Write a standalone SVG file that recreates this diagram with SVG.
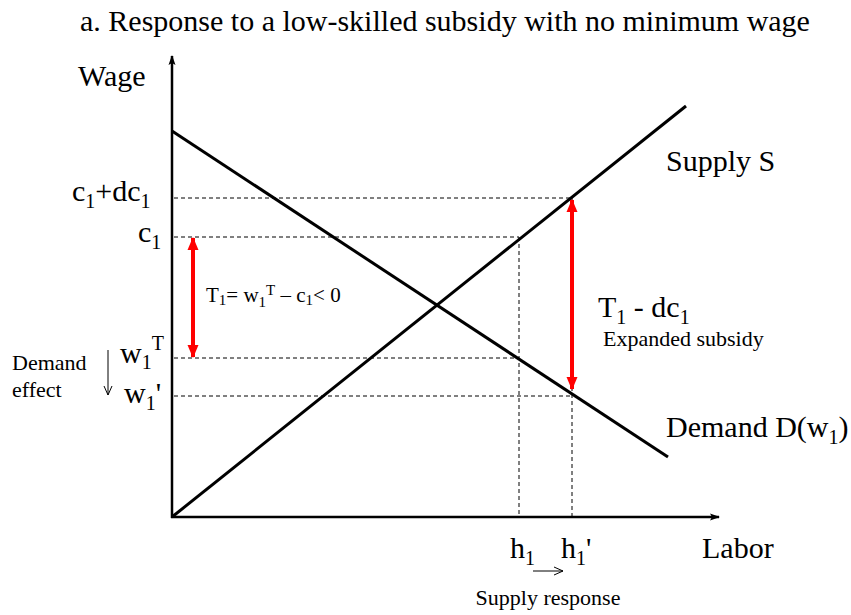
<svg xmlns="http://www.w3.org/2000/svg" width="851" height="615" viewBox="0 0 851 615">
<style>
text{font-family:"Liberation Serif","Times New Roman",serif;fill:#000}
.big{font-size:30px}
.sm{font-size:22px}
.ax{stroke:#000;stroke-width:2.5;fill:none}
.cv{stroke:#000;stroke-width:3;fill:none}
.dash{stroke:#000;stroke-width:1;stroke-dasharray:4,3;fill:none}
.red{stroke:#ff0000;stroke-width:4;fill:none}
.thin{stroke:#000;stroke-width:1;fill:none}
</style>
<defs>
<marker id="ah" markerWidth="10" markerHeight="10" refX="9" refY="5" orient="auto" markerUnits="userSpaceOnUse"><path d="M0,1.5 L10,5 L0,8.5 L2,5 z" fill="#000"/></marker>
<marker id="rh" markerWidth="13" markerHeight="12" refX="12" refY="6" orient="auto-start-reverse" markerUnits="userSpaceOnUse"><path d="M0,0.5 L13,6 L0,11.5 z" fill="#ff0000"/></marker>
<marker id="oh" markerWidth="10" markerHeight="10" refX="9" refY="5" orient="auto" markerUnits="userSpaceOnUse"><path d="M0,1 L9,5 L0,9" fill="none" stroke="#000" stroke-width="1"/></marker>
</defs>
<text class="big" x="80" y="31" font-size="30.5">a. Response to a low-skilled subsidy with no minimum wage</text>
<g id="connectors">
<line class="dash" x1="174" y1="198" x2="572" y2="198"/>
<line class="dash" x1="174" y1="237" x2="519" y2="237"/>
<line class="dash" x1="174" y1="358" x2="519" y2="358"/>
<line class="dash" x1="174" y1="396" x2="572" y2="396"/>
<line class="dash" x1="519" y1="237" x2="519" y2="516"/>
<line class="dash" x1="572" y1="198" x2="572" y2="516"/>
<line class="ax" x1="172" y1="518" x2="172" y2="56" marker-end="url(#ah)"/>
<line class="ax" x1="171" y1="517" x2="719" y2="517" marker-end="url(#ah)"/>
<line class="cv" x1="172" y1="131" x2="668" y2="457"/>
<line class="cv" x1="172" y1="517" x2="686" y2="106"/>
<line class="red" x1="193" y1="238" x2="193" y2="357" marker-start="url(#rh)" marker-end="url(#rh)"/>
<line class="red" x1="572" y1="200" x2="572" y2="389" marker-start="url(#rh)" marker-end="url(#rh)"/>
<line class="thin" x1="108" y1="350" x2="108" y2="395" marker-end="url(#oh)"/>
<line class="thin" x1="533" y1="571" x2="563" y2="571" marker-end="url(#oh)"/>
</g>
<g id="labels">
<text class="big" x="78" y="86">Wage</text>
<text class="big" x="666" y="171">Supply S</text>
<text class="big" x="666" y="437">Demand D(w<tspan font-size="20" dy="7">1</tspan><tspan dy="-7">)</tspan></text>
<text class="big" x="702" y="558">Labor</text>
<text class="big" x="510" y="558">h<tspan font-size="20" dy="7">1</tspan></text>
<text class="big" x="561" y="558">h<tspan font-size="20" dy="7">1</tspan><tspan dy="-7">'</tspan></text>
<text class="sm" x="548" y="605" text-anchor="middle">Supply response</text>
<text class="big" x="72" y="201">c<tspan font-size="20" dy="7">1</tspan><tspan dy="-7">+dc</tspan><tspan font-size="20" dy="7">1</tspan></text>
<text class="big" x="138" y="242">c<tspan font-size="20" dy="7">1</tspan></text>
<text class="big" x="120" y="363">w<tspan font-size="20" dy="6">1</tspan><tspan font-size="20" dy="-19">T</tspan></text>
<text class="big" x="124" y="403">w<tspan font-size="20" dy="7">1</tspan><tspan dy="-7">'</tspan></text>
<text class="sm" x="12" y="370">Demand</text>
<text class="sm" x="12" y="397">effect</text>
<text x="206" y="302" font-size="21">T<tspan font-size="15" dy="3">1</tspan><tspan dy="-3">= w</tspan><tspan font-size="15" dy="5">1</tspan><tspan font-size="15" dy="-12">T</tspan><tspan dy="7"> – c</tspan><tspan font-size="15" dy="3">1</tspan><tspan dy="-3">&lt; 0</tspan></text>
<text class="big" x="598" y="317">T<tspan font-size="20" dy="7">1</tspan><tspan dy="-7"> - dc</tspan><tspan font-size="20" dy="7">1</tspan></text>
<text class="sm" x="603" y="346">Expanded subsidy</text>
</g>
</svg>
